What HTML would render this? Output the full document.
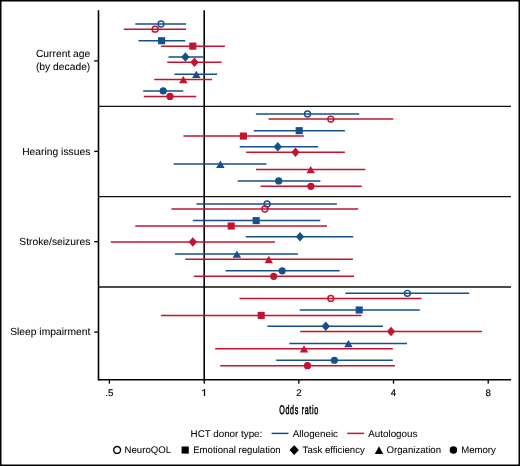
<!DOCTYPE html>
<html><head><meta charset="utf-8"><style>
html,body{margin:0;padding:0;background:#fff;}
body{width:520px;height:466px;overflow:hidden;}
svg{display:block;font-family:"Liberation Sans",sans-serif;}
svg{will-change:transform;text-rendering:geometricPrecision}
</style></head><body>
<svg width="520" height="466" viewBox="0 0 520 466">
<rect x="0.75" y="0.75" width="518.5" height="464.5" fill="#fff" stroke="#000" stroke-width="1.5"/>
<g stroke="#111" stroke-width="1.4">
<line x1="98.5" y1="106.35" x2="511" y2="106.35"/>
<line x1="98.5" y1="196.6" x2="511" y2="196.6"/>
<line x1="98.5" y1="287.0" x2="511" y2="287.0"/>
</g>
<line x1="98.5" y1="379.7" x2="511" y2="379.7" stroke="#000" stroke-width="1.5"/>
<line x1="98.5" y1="10.2" x2="98.5" y2="380.4" stroke="#000" stroke-width="1.6"/>
<line x1="204.2" y1="10.2" x2="204.2" y2="380" stroke="#000" stroke-width="1.6"/>
<line x1="94.2" y1="60.9" x2="98.5" y2="60.9" stroke="#000" stroke-width="1.3"/>
<line x1="94.2" y1="151.35" x2="98.5" y2="151.35" stroke="#000" stroke-width="1.3"/>
<line x1="94.2" y1="241.65" x2="98.5" y2="241.65" stroke="#000" stroke-width="1.3"/>
<line x1="94.2" y1="332.1" x2="98.5" y2="332.1" stroke="#000" stroke-width="1.3"/>
<line x1="109.4" y1="379.7" x2="109.4" y2="383.2" stroke="#000" stroke-width="1.3" stroke-linecap="round"/><text x="109.4" y="396.1" text-anchor="middle" font-size="9.7" stroke="#000" stroke-width="0.15">.5</text>
<line x1="204.25" y1="379.7" x2="204.25" y2="383.2" stroke="#000" stroke-width="1.3" stroke-linecap="round"/>
<line x1="298.85" y1="379.7" x2="298.85" y2="383.2" stroke="#000" stroke-width="1.3" stroke-linecap="round"/><text x="298.85" y="396.1" text-anchor="middle" font-size="9.7" stroke="#000" stroke-width="0.15">2</text>
<line x1="393.5" y1="379.7" x2="393.5" y2="383.2" stroke="#000" stroke-width="1.3" stroke-linecap="round"/><text x="393.5" y="396.1" text-anchor="middle" font-size="9.7" stroke="#000" stroke-width="0.15">4</text>
<line x1="488.2" y1="379.7" x2="488.2" y2="383.2" stroke="#000" stroke-width="1.3" stroke-linecap="round"/><text x="488.2" y="396.1" text-anchor="middle" font-size="9.7" stroke="#000" stroke-width="0.15">8</text><path d="M204.5 389.2V396" stroke="#000" stroke-width="1.25" fill="none"/><path d="M202.1 390.8C203.3 390.6 204 390.1 204.3 389.3" stroke="#000" stroke-width="1" fill="none"/>
<line x1="135.30" y1="24.05" x2="186.10" y2="24.05" stroke="#15508a" stroke-width="1.5"/>
<circle cx="161.0" cy="24.05" r="2.95" fill="none" stroke="#15508a" stroke-width="1.45"/>
<line x1="123.80" y1="29.13" x2="186.10" y2="29.13" stroke="#c41230" stroke-width="1.5"/>
<circle cx="155.1" cy="29.13" r="2.95" fill="none" stroke="#c41230" stroke-width="1.45"/>
<line x1="138.50" y1="40.72" x2="185.20" y2="40.72" stroke="#15508a" stroke-width="1.5"/>
<rect x="158.05" y="37.17" width="7.1" height="7.1" fill="#15508a"/>
<line x1="161.20" y1="46.14" x2="224.90" y2="46.14" stroke="#c41230" stroke-width="1.5"/>
<rect x="189.25" y="42.59" width="7.1" height="7.1" fill="#c41230"/>
<line x1="168.50" y1="56.89" x2="203.90" y2="56.89" stroke="#15508a" stroke-width="1.5"/>
<path d="M185.4 52.14L189.6 56.89L185.4 61.64L181.2 56.89Z" fill="#15508a"/>
<line x1="167.20" y1="62.24" x2="221.60" y2="62.24" stroke="#c41230" stroke-width="1.5"/>
<path d="M194.5 57.49L198.7 62.24L194.5 66.99L190.3 62.24Z" fill="#c41230"/>
<line x1="174.50" y1="74.15" x2="217.00" y2="74.15" stroke="#15508a" stroke-width="1.5"/>
<path d="M196.30 70.65L200.55 77.95L192.05 77.95Z" fill="#15508a"/>
<line x1="154.20" y1="79.49" x2="212.00" y2="79.49" stroke="#c41230" stroke-width="1.5"/>
<path d="M183.30 75.99L187.55 83.29L179.05 83.29Z" fill="#c41230"/>
<line x1="143.20" y1="90.97" x2="183.30" y2="90.97" stroke="#15508a" stroke-width="1.5"/>
<circle cx="163.2" cy="90.97" r="3.6" fill="#15508a"/>
<line x1="143.80" y1="96.40" x2="196.20" y2="96.40" stroke="#c41230" stroke-width="1.5"/>
<circle cx="170.0" cy="96.40" r="3.6" fill="#c41230"/>
<line x1="255.90" y1="114.00" x2="359.20" y2="114.00" stroke="#15508a" stroke-width="1.5"/>
<circle cx="307.5" cy="114.00" r="2.95" fill="none" stroke="#15508a" stroke-width="1.45"/>
<line x1="268.50" y1="119.08" x2="393.30" y2="119.08" stroke="#c41230" stroke-width="1.5"/>
<circle cx="330.8" cy="119.08" r="2.95" fill="none" stroke="#c41230" stroke-width="1.45"/>
<line x1="253.80" y1="130.67" x2="344.90" y2="130.67" stroke="#15508a" stroke-width="1.5"/>
<rect x="295.65" y="127.12" width="7.1" height="7.1" fill="#15508a"/>
<line x1="183.40" y1="136.09" x2="303.80" y2="136.09" stroke="#c41230" stroke-width="1.5"/>
<rect x="239.85" y="132.54" width="7.1" height="7.1" fill="#c41230"/>
<line x1="239.70" y1="146.84" x2="318.10" y2="146.84" stroke="#15508a" stroke-width="1.5"/>
<path d="M277.8 142.09L282.0 146.84L277.8 151.59L273.6 146.84Z" fill="#15508a"/>
<line x1="246.20" y1="152.19" x2="344.90" y2="152.19" stroke="#c41230" stroke-width="1.5"/>
<path d="M295.5 147.44L299.7 152.19L295.5 156.94L291.3 152.19Z" fill="#c41230"/>
<line x1="173.70" y1="164.10" x2="266.50" y2="164.10" stroke="#15508a" stroke-width="1.5"/>
<path d="M220.40 160.60L224.65 167.90L216.15 167.90Z" fill="#15508a"/>
<line x1="255.90" y1="169.44" x2="365.40" y2="169.44" stroke="#c41230" stroke-width="1.5"/>
<path d="M310.70 165.94L314.95 173.24L306.45 173.24Z" fill="#c41230"/>
<line x1="237.60" y1="180.92" x2="320.40" y2="180.92" stroke="#15508a" stroke-width="1.5"/>
<circle cx="278.7" cy="180.92" r="3.6" fill="#15508a"/>
<line x1="260.50" y1="186.35" x2="361.70" y2="186.35" stroke="#c41230" stroke-width="1.5"/>
<circle cx="310.9" cy="186.35" r="3.6" fill="#c41230"/>
<line x1="196.50" y1="203.93" x2="336.90" y2="203.93" stroke="#15508a" stroke-width="1.5"/>
<circle cx="267.1" cy="203.93" r="2.95" fill="none" stroke="#15508a" stroke-width="1.45"/>
<line x1="171.50" y1="209.01" x2="358.20" y2="209.01" stroke="#c41230" stroke-width="1.5"/>
<circle cx="264.9" cy="209.01" r="2.95" fill="none" stroke="#c41230" stroke-width="1.45"/>
<line x1="192.80" y1="220.60" x2="320.30" y2="220.60" stroke="#15508a" stroke-width="1.5"/>
<rect x="252.65" y="217.05" width="7.1" height="7.1" fill="#15508a"/>
<line x1="135.30" y1="226.02" x2="327.00" y2="226.02" stroke="#c41230" stroke-width="1.5"/>
<rect x="227.65" y="222.47" width="7.1" height="7.1" fill="#c41230"/>
<line x1="245.80" y1="236.77" x2="353.30" y2="236.77" stroke="#15508a" stroke-width="1.5"/>
<path d="M300.0 232.02L304.2 236.77L300.0 241.52L295.8 236.77Z" fill="#15508a"/>
<line x1="110.80" y1="242.12" x2="274.90" y2="242.12" stroke="#c41230" stroke-width="1.5"/>
<path d="M192.8 237.37L197.0 242.12L192.8 246.87L188.6 242.12Z" fill="#c41230"/>
<line x1="175.00" y1="254.03" x2="297.90" y2="254.03" stroke="#15508a" stroke-width="1.5"/>
<path d="M236.90 250.53L241.15 257.83L232.65 257.83Z" fill="#15508a"/>
<line x1="185.30" y1="259.37" x2="352.90" y2="259.37" stroke="#c41230" stroke-width="1.5"/>
<path d="M268.80 255.87L273.05 263.17L264.55 263.17Z" fill="#c41230"/>
<line x1="225.50" y1="270.85" x2="339.70" y2="270.85" stroke="#15508a" stroke-width="1.5"/>
<circle cx="282.2" cy="270.85" r="3.6" fill="#15508a"/>
<line x1="193.80" y1="276.28" x2="354.00" y2="276.28" stroke="#c41230" stroke-width="1.5"/>
<circle cx="273.7" cy="276.28" r="3.6" fill="#c41230"/>
<line x1="345.30" y1="293.31" x2="469.20" y2="293.31" stroke="#15508a" stroke-width="1.5"/>
<circle cx="407.4" cy="293.31" r="2.95" fill="none" stroke="#15508a" stroke-width="1.45"/>
<line x1="239.50" y1="298.39" x2="421.50" y2="298.39" stroke="#c41230" stroke-width="1.5"/>
<circle cx="330.8" cy="298.39" r="2.95" fill="none" stroke="#c41230" stroke-width="1.45"/>
<line x1="299.70" y1="309.98" x2="419.80" y2="309.98" stroke="#15508a" stroke-width="1.5"/>
<rect x="355.65" y="306.43" width="7.1" height="7.1" fill="#15508a"/>
<line x1="161.10" y1="315.40" x2="361.50" y2="315.40" stroke="#c41230" stroke-width="1.5"/>
<rect x="257.65" y="311.85" width="7.1" height="7.1" fill="#c41230"/>
<line x1="267.30" y1="326.15" x2="382.90" y2="326.15" stroke="#15508a" stroke-width="1.5"/>
<path d="M325.8 321.40L330.0 326.15L325.8 330.90L321.6 326.15Z" fill="#15508a"/>
<line x1="300.20" y1="331.50" x2="481.90" y2="331.50" stroke="#c41230" stroke-width="1.5"/>
<path d="M391.0 326.75L395.2 331.50L391.0 336.25L386.8 331.50Z" fill="#c41230"/>
<line x1="289.30" y1="343.41" x2="407.00" y2="343.41" stroke="#15508a" stroke-width="1.5"/>
<path d="M348.40 339.91L352.65 347.21L344.15 347.21Z" fill="#15508a"/>
<line x1="215.20" y1="348.75" x2="392.80" y2="348.75" stroke="#c41230" stroke-width="1.5"/>
<path d="M304.00 345.25L308.25 352.55L299.75 352.55Z" fill="#c41230"/>
<line x1="276.20" y1="360.23" x2="392.80" y2="360.23" stroke="#15508a" stroke-width="1.5"/>
<circle cx="334.4" cy="360.23" r="3.6" fill="#15508a"/>
<line x1="220.30" y1="365.66" x2="394.90" y2="365.66" stroke="#c41230" stroke-width="1.5"/>
<circle cx="307.5" cy="365.66" r="3.6" fill="#c41230"/>
<g font-size="10.3" fill="#000" stroke="#000" stroke-width="0.05" text-anchor="end">
<text x="90.3" y="57.2">Current age</text>
<text x="90.3" y="70.2">(by decade)</text>
<text x="90.3" y="154.8">Hearing issues</text>
<text x="90.3" y="245.2">Stroke/seizures</text>
<text x="90.3" y="335.25">Sleep impairment</text>
</g>
<text x="298.5" y="413.7" font-size="12.5" letter-spacing="1.2" text-anchor="middle" transform="translate(299.1 0) scale(0.57 1) translate(-298.5 0)" fill="#000" stroke="#000" stroke-width="0.55">Odds ratio</text>
<g font-size="9.8" fill="#000" stroke="#000" stroke-width="0.05">
<text x="190.6" y="437.2">HCT donor type:</text>
<text x="292.8" y="437.2">Allogeneic</text>
<text x="368.3" y="437.2">Autologous</text>
</g>
<line x1="271.6" y1="433.4" x2="288.5" y2="433.4" stroke="#15508a" stroke-width="1.5"/>
<line x1="347.2" y1="433.4" x2="364.2" y2="433.4" stroke="#c41230" stroke-width="1.5"/>
<g font-size="9.6" fill="#000" stroke="#000" stroke-width="0.05">
<text x="124.6" y="453">NeuroQOL</text>
<text x="193.2" y="453">Emotional regulation</text>
<text x="302.6" y="453">Task efficiency</text>
<text x="386.6" y="453">Organization</text>
<text x="461.2" y="453">Memory</text>
</g>
<circle cx="117.1" cy="449.95" r="3.45" fill="none" stroke="#000" stroke-width="1.4"/>
<rect x="181.6" y="446.5" width="7.2" height="7.1" fill="#000"/>
<path d="M294.2 445.3L298.9 450.1L294.2 454.9L289.5 450.1Z" fill="#000"/>
<path d="M379 446.2L383.2 453.9L374.8 453.9Z" fill="#000"/>
<circle cx="453.4" cy="449.95" r="3.75" fill="#000"/>
</svg>
</body></html>
